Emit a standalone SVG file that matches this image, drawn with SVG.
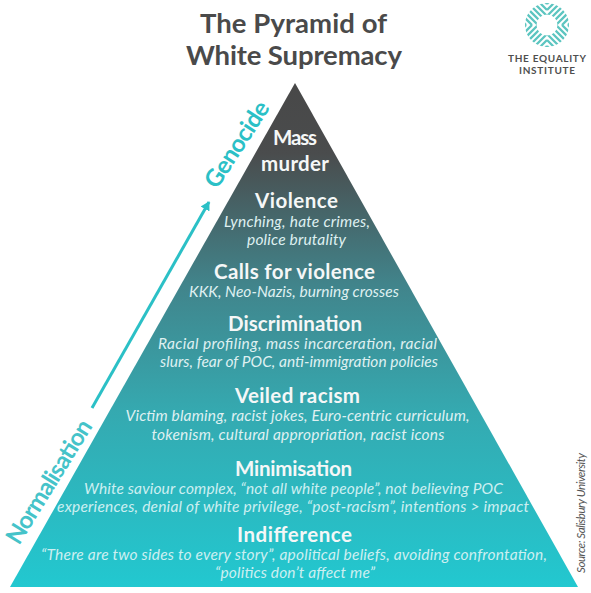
<svg xmlns="http://www.w3.org/2000/svg" width="591" height="593" viewBox="0 0 591 593">
<defs>
<linearGradient id="g" x1="0" y1="83" x2="0" y2="587" gradientUnits="userSpaceOnUse">
<stop offset="0" stop-color="#484848"/><stop offset="0.14" stop-color="#4a4c4d"/><stop offset="0.4" stop-color="#41848b"/><stop offset="0.65" stop-color="#35a9b0"/><stop offset="1" stop-color="#22c8d0"/>
</linearGradient>
<marker id="ah" markerWidth="11" markerHeight="11" refX="8" refY="5" orient="auto" markerUnits="userSpaceOnUse"><path d="M0 0L9 5L0 10Z" fill="#2bc0c6"/></marker>
<clipPath id="ring"><path clip-rule="evenodd" d="M-22 0A22 22 0 1 0 22 0A22 22 0 1 0 -22 0ZM-10.5 0A10.5 10.5 0 1 0 10.5 0A10.5 10.5 0 1 0 -10.5 0Z"/></clipPath>
<path id="q" d="M-33 -30L-3 0M-30 -33L0 -3M-39 -30L-9 0M-30 -39L0 -9M-45 -30L-15 0M-30 -45L0 -15M-51 -30L-21 0M-30 -51L0 -21"/>
</defs>
<style>
text{font-family:"Lato","Liberation Sans",sans-serif;text-anchor:middle}
.h{font-size:20.5px;font-weight:700;fill:#f5f7f7}
.d{font-size:15.5px;font-style:italic;fill:#dff0f1}
.e{fill:#cdeff1}
.t{font-size:27.5px;font-weight:700;fill:#4a4a4a}
.s{font-size:24px;font-weight:700;text-anchor:start}
.g1{fill:#2bc0c6}
.g2{fill:#45c3c9}
.l{font-size:10px;font-weight:700;fill:#4f4f4f}
</style>
<rect width="591" height="593" fill="#fff"/>
<g id="title"><text class="t" x="293.500" y="33" textLength="187">The Pyramid of</text><text class="t" x="294" y="65" textLength="216">White Supremacy</text></g>
<g id="logo" fill="none" stroke="#5cc5c0" stroke-width="2.3" transform="translate(547 25)"><g clip-path="url(#ring)">
<use href="#q"/><use href="#q" transform="scale(-1 1)"/><use href="#q" transform="scale(1 -1)"/><use href="#q" transform="scale(-1 -1)"/>
</g></g>
<g id="logotext"><text class="l" x="547" y="62" textLength="78">THE EQUALITY</text><text class="l" x="547" y="73.500" textLength="56">INSTITUTE</text></g>
<g id="pyramid"><path d="M295 83L578 587H10Z" fill="url(#g)"/></g>
<g id="connectors"><line x1="92" y1="408" x2="209" y2="202" stroke="#2bc0c6" stroke-width="3" marker-end="url(#ah)"/></g>
<g id="genocide"><text class="s g1" transform="translate(217 190) rotate(-57)" textLength="98">Genocide</text></g>
<g id="normalisation"><text class="s g2" transform="translate(19 546) rotate(-58.300)" textLength="141">Normalisation</text></g>
<g id="mass"><text class="h" x="295" y="145" textLength="44">Mass</text><text class="h" x="295" y="171" textLength="68">murder</text></g>
<g id="violence"><text class="h" x="296.500" y="208" textLength="83">Violence</text><text class="d" x="297" y="227" textLength="146">Lynching, hate crimes,</text><text class="d" x="296.500" y="245" textLength="99">police brutality</text></g>
<g id="calls"><text class="h" x="294.500" y="279" textLength="161">Calls for violence</text><text class="d" x="294" y="297" textLength="210">KKK, Neo-Nazis, burning crosses</text></g>
<g id="discrimination"><text class="h" x="295" y="331" textLength="134">Discrimination</text><text class="d" x="297.500" y="349" textLength="279">Racial profiling, mass incarceration, racial</text><text class="d" x="299" y="367" textLength="278">slurs, fear of POC, anti-immigration policies</text></g>
<g id="veiled"><text class="h" x="297.500" y="403" textLength="125">Veiled racism</text><text class="d" x="297.500" y="421" textLength="344">Victim blaming, racist jokes, Euro-centric curriculum,</text><text class="d" x="298" y="440" textLength="293">tokenism, cultural appropriation, racist icons</text></g>
<g id="minimisation"><text class="h" x="293.500" y="476" textLength="117">Minimisation</text><text class="d e" x="293.500" y="494" textLength="419">White saviour complex, “not all white people”, not believing POC</text><text class="d e" x="293" y="512" textLength="472">experiences, denial of white privilege, “post-racism”, intentions &gt; impact</text></g>
<g id="indifference"><text class="h" x="294.500" y="542" textLength="115">Indifference</text><text class="d e" x="294" y="560" textLength="506">“There are two sides to every story”, apolitical beliefs, avoiding confrontation,</text><text class="d e" x="295" y="578" textLength="160">“politics don’t affect me”</text></g>
<g id="source"><text transform="translate(585 513) rotate(-90)" textLength="120" style="font-size:11.500px;font-style:italic;fill:#555">Source: Salisbury University</text></g>
</svg>
